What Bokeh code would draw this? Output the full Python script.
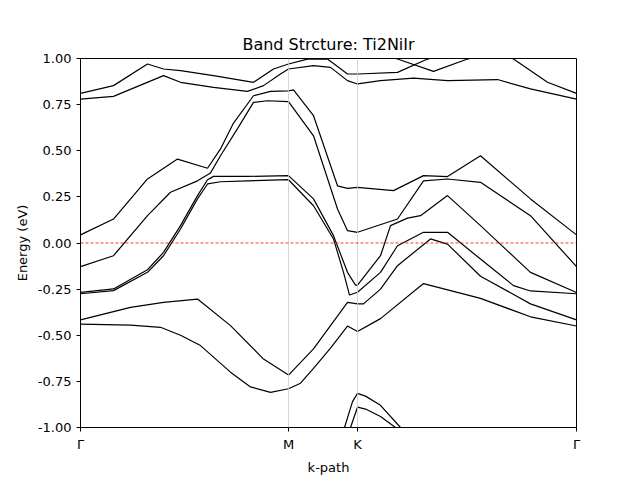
from bokeh.plotting import figure
from bokeh.embed import file_html
from bokeh.resources import INLINE
from bokeh.models import Span, FixedTicker, Range1d

# k-path positions of the high-symmetry points
kpoint_pos = [0.0, 2.08, 2.77, 4.96]
kpoint_labels = ["Γ", "M", "K", "Γ"]

# bands (k, energy in eV)
bands = [
    ([0, 0.5, 0.8, 1.0, 1.2, 1.5, 1.7, 1.9, 2.08, 2.2, 2.33, 2.5, 2.67, 2.77, 3.0, 3.43, 4.0, 4.5, 4.96],
     [-0.44, -0.445, -0.457, -0.50, -0.556, -0.70, -0.78, -0.81, -0.79, -0.76, -0.68, -0.57, -0.45, -0.48, -0.41, -0.22, -0.30, -0.40, -0.45]),
    ([0, 0.5, 0.83, 1.17, 1.5, 1.83, 2.08, 2.33, 2.5, 2.67, 2.77, 2.83, 3.0, 3.17, 3.5, 3.67, 4.0, 4.5, 4.96],
     [-0.417, -0.349, -0.322, -0.304, -0.448, -0.629, -0.716, -0.574, -0.448, -0.322, -0.33, -0.33, -0.25, -0.123, 0.022, -0.006, -0.18, -0.33, -0.417]),
    ([0, 0.33, 0.67, 0.83, 1.0, 1.17, 1.27, 1.4, 1.67, 2.08, 2.33, 2.53, 2.63, 2.69, 2.77, 3.0, 3.17, 3.43, 3.67, 4.0, 4.33, 4.5, 4.96],
     [-0.275, -0.258, -0.159, -0.069, 0.076, 0.239, 0.32, 0.332, 0.337, 0.343, 0.202, 0.022, -0.159, -0.282, -0.267, -0.159, -0.015, 0.058, 0.058, -0.087, -0.231, -0.26, -0.275]),
    ([0, 0.33, 0.67, 0.83, 1.0, 1.17, 1.27, 1.33, 1.67, 2.08, 2.33, 2.53, 2.67, 2.75, 2.77, 3.0, 3.1, 3.27, 3.4, 3.67, 4.0, 4.5, 4.96],
     [-0.268, -0.249, -0.145, -0.051, 0.094, 0.257, 0.343, 0.361, 0.361, 0.365, 0.239, 0.04, -0.159, -0.228, -0.228, -0.069, 0.094, 0.135, 0.148, 0.257, 0.094, -0.159, -0.268]),
    ([0, 0.33, 0.67, 0.9, 1.17, 1.3, 1.4, 1.57, 1.73, 1.87, 2.08, 2.33, 2.57, 2.67, 2.77, 3.17, 3.43, 3.67, 4.0, 4.5, 4.96],
     [-0.128, -0.069, 0.148, 0.275, 0.337, 0.38, 0.473, 0.62, 0.762, 0.771, 0.766, 0.581, 0.184, 0.067, 0.058, 0.13, 0.337, 0.347, 0.329, 0.148, -0.128]),
    ([0, 0.33, 0.67, 0.97, 1.27, 1.4, 1.53, 1.73, 1.9, 2.08, 2.13, 2.33, 2.57, 2.67, 2.77, 3.13, 3.43, 3.67, 4.0, 4.5, 4.96],
     [0.044, 0.13, 0.347, 0.455, 0.405, 0.51, 0.65, 0.798, 0.822, 0.825, 0.83, 0.69, 0.31, 0.296, 0.302, 0.284, 0.365, 0.36, 0.473, 0.239, 0.044]),
    ([0, 0.33, 0.83, 1.0, 1.33, 1.67, 1.83, 2.0, 2.08, 2.33, 2.5, 2.67, 2.77, 3.0, 3.33, 3.67, 4.17, 4.5, 4.96],
     [0.78, 0.795, 0.907, 0.871, 0.844, 0.822, 0.853, 0.916, 0.943, 0.961, 0.952, 0.88, 0.862, 0.88, 0.894, 0.88, 0.886, 0.835, 0.78]),
    ([0, 0.33, 0.67, 0.83, 1.0, 1.33, 1.73, 1.93, 2.08, 2.27, 2.47, 2.67, 2.77, 3.17, 3.47, 3.7, 4.2, 4.33, 4.67, 4.96],
     [0.811, 0.853, 0.97, 0.943, 0.934, 0.907, 0.871, 0.943, 0.97, 0.997, 0.997, 0.916, 0.916, 0.925, 0.997, 1.03, 1.03, 0.997, 0.871, 0.811]),
    ([2.0, 2.5, 3.0, 3.17, 3.53, 3.87, 4.2],
     [1.05, 1.03, 1.03, 0.997, 0.93, 0.997, 1.05]),
    ([2.55, 2.64, 2.72, 2.77, 2.85, 3.0, 3.2, 3.3],
     [-1.1, -1.0, -0.86, -0.815, -0.83, -0.88, -1.0, -1.05]),
    ([2.64, 2.70, 2.77, 2.85, 3.0, 3.15, 3.25],
     [-1.1, -1.0, -0.89, -0.90, -0.94, -1.0, -1.05]),
]

p = figure(width=640, height=480, output_backend="svg", toolbar_location=None,
           title="Band Strcture: Ti2NiIr",
           x_axis_label="k-path", y_axis_label="Energy (eV)",
           x_range=Range1d(kpoint_pos[0], kpoint_pos[-1]),
           y_range=Range1d(-1.0, 1.0),
           min_border_left=80, min_border_right=64,
           min_border_top=58, min_border_bottom=53)

p.grid.visible = False
p.outline_line_color = "black"
p.title.align = "center"
p.title.text_font = "DejaVu Sans"
p.title.text_font_size = "16px"
p.title.text_font_style = "normal"
p.title.text_color = "black"

for ax in (p.xaxis, p.yaxis):
    ax.axis_label_text_font = "DejaVu Sans"
    ax.axis_label_text_font_size = "13px"
    ax.axis_label_text_font_style = "normal"
    ax.axis_label_text_color = "black"
    ax.major_label_text_font = "DejaVu Sans"
    ax.major_label_text_font_size = "13px"
    ax.major_label_text_color = "black"
    ax.minor_tick_line_color = None
    ax.major_tick_out = 4
    ax.major_tick_in = 0
    ax.axis_line_color = "black"

p.xaxis.ticker = FixedTicker(ticks=kpoint_pos)
p.xaxis.major_label_overrides = {k: lab for k, lab in zip(kpoint_pos, kpoint_labels)}
yticks = [-1.0, -0.75, -0.5, -0.25, 0.0, 0.25, 0.5, 0.75, 1.0]
p.yaxis.ticker = FixedTicker(ticks=yticks)
p.yaxis.major_label_overrides = {t: f"{t:.2f}" for t in yticks}

for k in kpoint_pos[1:-1]:
    p.add_layout(Span(location=k, dimension="height", line_color="#cccccc", line_width=0.8))

p.add_layout(Span(location=0.0, dimension="width", line_color="red",
                  line_width=0.8, line_dash="3 2"))

for ks, es in bands:
    p.line(ks, es, line_color="black", line_width=1.2)

open("out.html", "w").write(file_html(p, INLINE))
